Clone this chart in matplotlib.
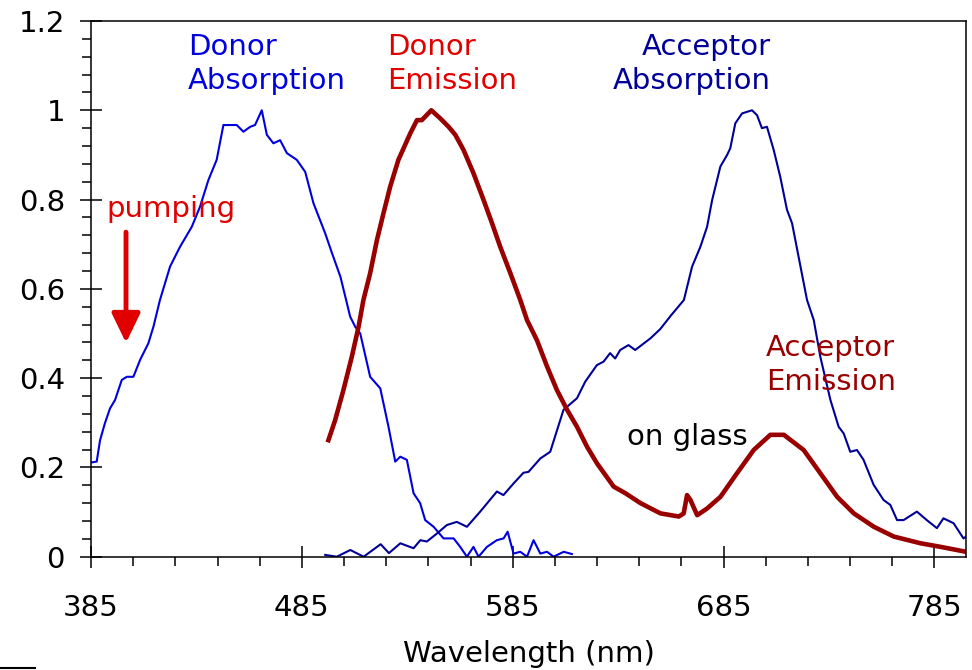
import matplotlib
matplotlib.use('Agg')
import matplotlib.pyplot as plt
from matplotlib.lines import Line2D
from matplotlib.ticker import MultipleLocator, FormatStrFormatter

plt.rcParams['font.family'] = ['DejaVu Sans']

# donor absorption (blue)
don_abs_x = [385, 387.7, 389.3, 391.6, 394.0, 396.4, 399.6, 402.0, 405.1, 408.3,
             412.2, 414.6, 417.7, 422.5, 427.2, 432.8, 436.7, 440.7, 444.6, 447.8,
             454.1, 457.3, 460.5, 462.8, 466.0, 468.4, 471.5, 474.7, 477.9, 482.6,
             486.6, 490.5, 496.1, 499.3, 503.3, 506.0, 507.9, 510.3, 512.7, 517.4,
             522.2, 526.1, 529.3, 531.7, 534.8, 538.0, 541.1, 543.5, 547.5, 552.2,
             557.0, 560.1, 563.3, 566.4, 568.8, 572.8, 577.5, 580.7, 582.6, 585.4,
             588.6, 591.8, 594.9, 598.1, 601.3, 604.4, 609.2, 613.1]
don_abs_y = [0.211, 0.213, 0.261, 0.299, 0.332, 0.351, 0.396, 0.403, 0.403, 0.441,
             0.478, 0.515, 0.575, 0.650, 0.694, 0.739, 0.784, 0.844, 0.889, 0.967,
             0.967, 0.952, 0.963, 0.967, 1.0, 0.945, 0.926, 0.933, 0.904, 0.889,
             0.862, 0.792, 0.724, 0.680, 0.627, 0.575, 0.538, 0.515, 0.500, 0.403,
             0.377, 0.291, 0.213, 0.224, 0.217, 0.142, 0.120, 0.082, 0.067, 0.041,
             0.041, 0.022, 0.0, 0.022, 0.0, 0.022, 0.037, 0.041, 0.056, 0.007,
             0.011, 0.0, 0.037, 0.007, 0.011, 0.0, 0.011, 0.006]

# acceptor absorption (navy)
acc_abs_x = [496.1, 501.6, 508.0, 514.3, 522.4, 526.3, 531.7, 538.0, 541.2, 544.3,
             549.1, 553.8, 558.5, 563.3, 569.6, 577.5, 580.6, 585.4, 590.1, 592.5,
             598.1, 602.8, 609.1, 615.5, 619.4, 624.9, 628.1, 631.2, 633.6, 636.0,
             639.9, 643.1, 650.3, 655.0, 660.0, 666.2, 670.1, 674.0, 677.2, 679.6,
             683.5, 686.7, 688.2, 690.6, 693.8, 698.5, 700.9, 703.2, 705.6, 708.8,
             711.9, 715.1, 717.5, 721.5, 724.6, 727.8, 730.9, 735.7, 739.6, 742.0,
             745.1, 748.3, 751.4, 756.2, 760.9, 764.1, 767.3, 770.4, 776.7, 781.4,
             786.2, 789.3, 794.1, 798.8, 800]
acc_abs_y = [0.004, 0.0, 0.015, 0.0, 0.028, 0.008, 0.030, 0.019, 0.037, 0.034,
             0.052, 0.071, 0.078, 0.067, 0.101, 0.146, 0.138, 0.164, 0.188, 0.190,
             0.220, 0.235, 0.329, 0.355, 0.392, 0.429, 0.437, 0.456, 0.444, 0.463,
             0.474, 0.463, 0.489, 0.51, 0.54, 0.575, 0.650, 0.694, 0.739, 0.799,
             0.874, 0.900, 0.915, 0.971, 0.993, 1.0, 0.989, 0.960, 0.963, 0.911,
             0.851, 0.777, 0.747, 0.650, 0.575, 0.530, 0.448, 0.351, 0.291, 0.276,
             0.235, 0.239, 0.217, 0.161, 0.127, 0.116, 0.082, 0.082, 0.101, 0.082,
             0.064, 0.086, 0.075, 0.041, 0.045]

# emission on glass (donor + acceptor, dark red)
em_x = [497.6, 500.8, 504.7, 508.7, 511.9, 514.2, 517.4, 520.6, 523.7, 526.9,
        530.8, 536.4, 539.6, 541.9, 546.4, 550.6, 554.6, 557.8, 561.7, 566.4,
        571.2, 575.2, 579.1, 583.9, 588.6, 591.8, 596.5, 601.3, 606.0, 610.8,
        615.5, 620.3, 625.0, 632.9, 638.5, 645.6, 655.1, 663.8, 666.1, 667.7,
        669.3, 672.5, 677.2, 683.5, 691.4, 699.3, 707.2, 713.6, 723.0, 730.9,
        738.9, 746.8, 756.3, 765.8, 778.5, 788.0, 800]
em_y = [0.261, 0.306, 0.373, 0.448, 0.515, 0.575, 0.635, 0.709, 0.769, 0.829,
        0.889, 0.948, 0.978, 0.978, 1.0, 0.982, 0.963, 0.945, 0.911, 0.859,
        0.799, 0.747, 0.694, 0.635, 0.575, 0.530, 0.485, 0.426, 0.373, 0.329,
        0.291, 0.246, 0.209, 0.157, 0.142, 0.120, 0.097, 0.090, 0.097, 0.138,
        0.127, 0.093, 0.108, 0.134, 0.187, 0.239, 0.273, 0.273, 0.239, 0.187,
        0.134, 0.097, 0.067, 0.045, 0.030, 0.022, 0.011]

fig = plt.figure(figsize=(9.72, 6.70), dpi=100)
ax = fig.add_axes([91/972, 1 - 556.7/670, 875/972, 535.7/670])

ax.plot(don_abs_x, don_abs_y, color='#0000DD', lw=1.5, solid_joinstyle='round')
ax.plot(acc_abs_x, acc_abs_y, color='#000099', lw=1.5, solid_joinstyle='round')
ax.plot(em_x, em_y, color='#990000', lw=3.3, solid_joinstyle='round')

ax.set_xlim(385, 800)
ax.set_ylim(0, 1.2)
ax.xaxis.set_major_locator(MultipleLocator(100, offset=85))
ax.xaxis.set_minor_locator(MultipleLocator(20, offset=5))
ax.yaxis.set_major_locator(MultipleLocator(0.2))
ax.yaxis.set_minor_locator(MultipleLocator(0.04))
ax.yaxis.set_major_formatter(FormatStrFormatter('%g'))

for s in ax.spines.values():
    s.set_linewidth(1.1)
ax.tick_params(which='major', direction='inout', length=15.5, width=1.1, labelsize=21)
ax.tick_params(which='minor', direction='out', length=6.5, width=1.1)
ax.tick_params(axis='x', which='major', pad=19)
ax.tick_params(axis='y', which='major', pad=11)

ax.set_xlabel('Wavelength (nm)', fontsize=21, labelpad=13)

# curve labels
ax.text(431.0, 1.048, 'Donor\nAbsorption', color='#0000DD', fontsize=21,
        va='baseline', linespacing=1.28)
ax.text(525.6, 1.048, 'Donor\nEmission', color='#E00000', fontsize=21,
        va='baseline', linespacing=1.28)
ax.text(707.3, 1.048, 'Acceptor\nAbsorption', color='#000099', fontsize=21,
        va='baseline', ha='right', multialignment='right', linespacing=1.28)
ax.text(705.2, 0.373, 'Acceptor\nEmission', color='#990000', fontsize=21,
        va='baseline', linespacing=1.28)
ax.text(639.2, 0.250, 'on glass', color='black', fontsize=21, va='baseline')
ax.text(392.4, 0.762, 'pumping', color='#E00000', fontsize=21, va='baseline')

ax.annotate('', xy=(401.6, 0.479), xytext=(401.6, 0.727),
            arrowprops=dict(arrowstyle='-|>,head_length=0.62,head_width=0.3',
                            mutation_scale=29, color='#E00000', lw=3.5,
                            shrinkA=0, shrinkB=0))

fig.add_artist(Line2D([0, 35/972], [2/670, 2/670], color='black', lw=1.5))

fig.savefig('out.png', dpi=100)
